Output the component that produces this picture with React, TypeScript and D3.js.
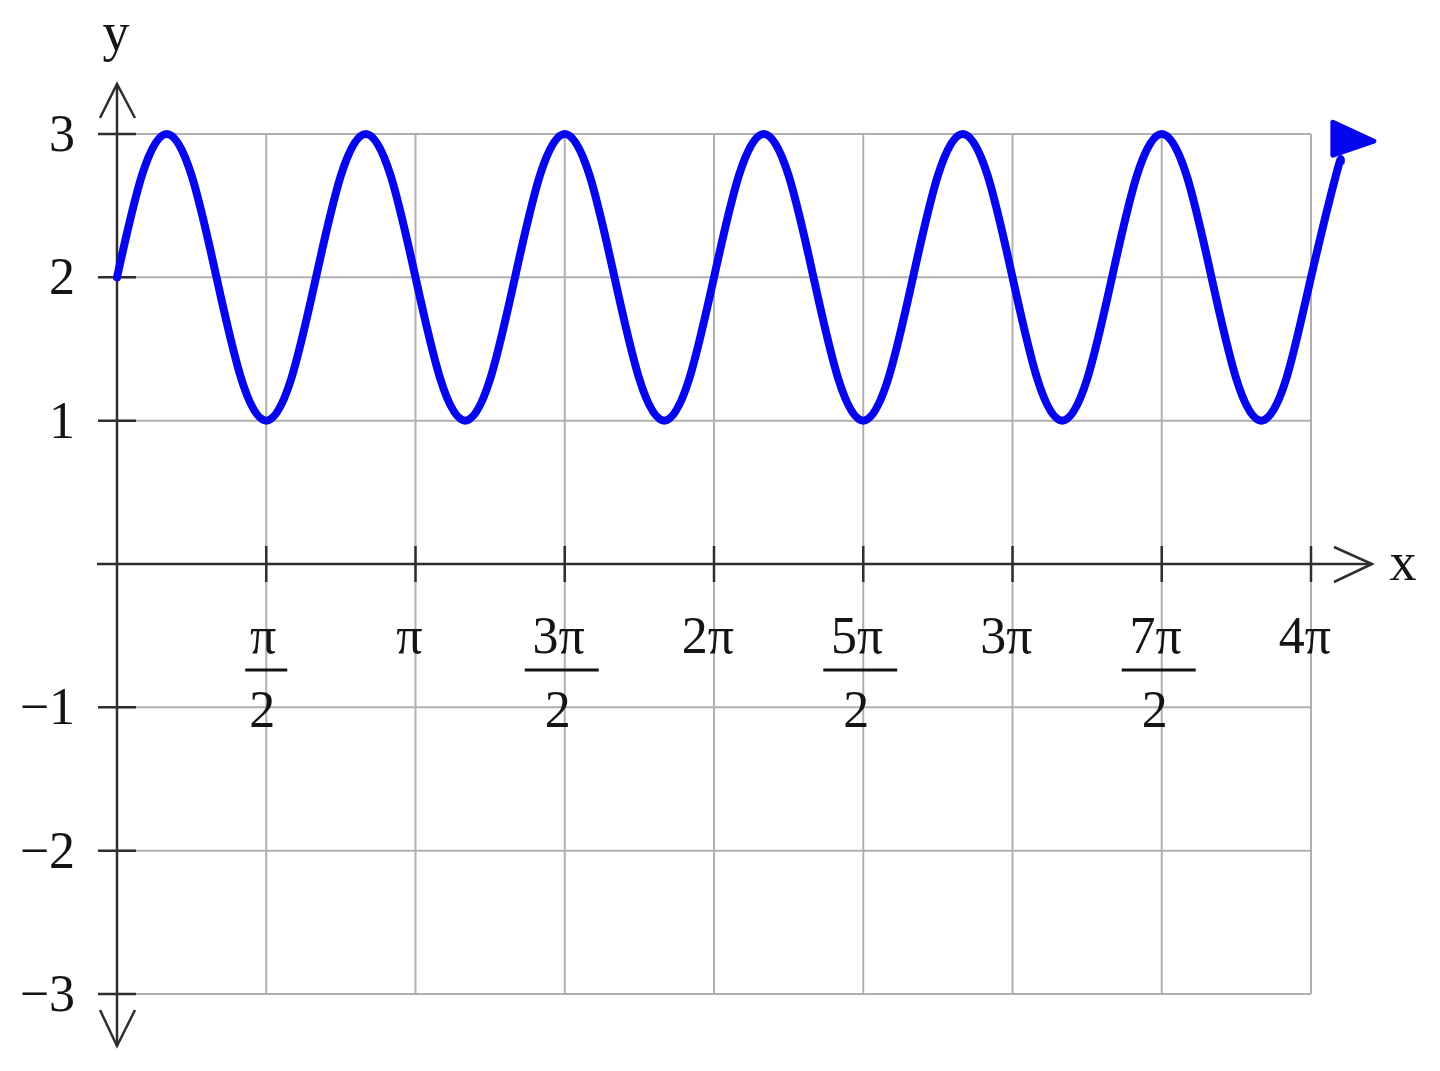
import React from "react";
import * as d3 from "d3";

const W = 1440;
const H = 1071;

// x positions in multiples of π/12, y values
const curveX = [
  0, 1, 2, 3, 4, 5, 6, 7, 8, 9, 10, 11, 12, 13, 14, 15, 16, 17, 18, 19, 20, 21, 22, 23, 24,
  25, 26, 27, 28, 29, 30, 31, 32, 33, 34, 35, 36, 37, 38, 39, 40, 41, 42, 43, 44, 45, 46, 47, 48, 49, 49.2,
];
const curveY = [
  2, 2.71, 3, 2.71, 2, 1.29, 1, 1.29, 2, 2.71, 3, 2.71, 2, 1.29, 1, 1.29, 2, 2.71, 3, 2.71, 2, 1.29, 1, 1.29, 2,
  2.71, 3, 2.71, 2, 1.29, 1, 1.29, 2, 2.71, 3, 2.71, 2, 1.29, 1, 1.29, 2, 2.71, 3, 2.71, 2, 1.29, 1, 1.29, 2, 2.71, 2.81,
];

// x ticks in multiples of π/2
const xTickVals = [1, 2, 3, 4, 5, 6, 7, 8];
const xTickNum = ["π", "π", "3π", "2π", "5π", "3π", "7π", "4π"];
const xTickFrac = [true, false, true, false, true, false, true, false];
const yTickVals = [-3, -2, -1, 1, 2, 3];
const yTickLabels = ["−3", "−2", "−1", "1", "2", "3"];
const yGridVals = [-3, -2, -1, 0, 1, 2, 3];

const FONT = "'Liberation Serif', 'DejaVu Serif', serif";
const FS = 52;

export default function App() {
  const x = d3.scaleLinear().domain([0, 4 * Math.PI]).range([117, 1311]);
  const y = d3.scaleLinear().domain([-3, 3]).range([994, 134]);
  const PI = Math.PI;

  const pts: [number, number][] = curveX.map((v, i) => [(v * PI) / 12, curveY[i]]);
  const line = d3
    .line<[number, number]>()
    .x((d) => x(d[0]))
    .y((d) => y(d[1]))
    .curve(d3.curveNatural);

  const last = pts[pts.length - 1];
  const ex = x(last[0]);
  const ey = y(last[1]);

  const x0 = x(0);
  const y0 = y(0);
  const axisCol = "#2e2e2e";
  const gridCol = "#b0b0b0";
  const blue = "#0606ee";
  const txt = "#141414";

  return (
    <svg
      width={W}
      height={H}
      style={{ position: "absolute", left: 0, top: 0, background: "#fff" }}
    >
      {/* grid */}
      {yGridVals.map((v) => (
        <line key={"gy" + v} x1={x0} x2={x(4 * PI)} y1={y(v)} y2={y(v)} stroke={gridCol} strokeWidth={2} />
      ))}
      {xTickVals.map((v) => (
        <line key={"gx" + v} x1={x((v * PI) / 2)} x2={x((v * PI) / 2)} y1={y(3)} y2={y(-3)} stroke={gridCol} strokeWidth={2} />
      ))}

      {/* x axis */}
      <line x1={97} x2={1372} y1={y0} y2={y0} stroke={axisCol} strokeWidth={2.5} />
      <polyline points={`1334,547 1372,${y0} 1334,582`} fill="none" stroke={axisCol} strokeWidth={2.5} />
      {xTickVals.map((v) => (
        <line key={"tx" + v} x1={x((v * PI) / 2)} x2={x((v * PI) / 2)} y1={y0 - 18} y2={y0 + 18} stroke={axisCol} strokeWidth={2.5} />
      ))}

      {/* y axis */}
      <line x1={x0} x2={x0} y1={84} y2={1046} stroke={axisCol} strokeWidth={2.5} />
      <polyline points={`100,118 ${x0},84 135,118`} fill="none" stroke={axisCol} strokeWidth={2.5} />
      <polyline points={`100,1010 ${x0},1046 135,1010`} fill="none" stroke={axisCol} strokeWidth={2.5} />
      {yTickVals.map((v) => (
        <line key={"ty" + v} x1={98} x2={136} y1={y(v)} y2={y(v)} stroke={axisCol} strokeWidth={2.5} />
      ))}

      {/* y labels */}
      {yTickVals.map((v, i) => (
        <text
          key={"ly" + v}
          x={75}
          y={y(v) + 17}
          textAnchor="end"
          fontFamily={FONT}
          fontSize={FS}
          fill={txt}
        >
          {yTickLabels[i]}
        </text>
      ))}

      {/* x labels */}
      {xTickVals.map((v, i) => {
        const tx = x((v * PI) / 2);
        if (!xTickFrac[i]) {
          return (
            <text key={"lx" + v} x={tx - 6} y={653} textAnchor="middle" fontFamily={FONT} fontSize={FS} fill={txt}>
              {xTickNum[i]}
            </text>
          );
        }
        const wide = xTickNum[i].length > 1;
        const half = wide ? 37 : 21;
        const bc = wide ? tx - 3 : tx;
        return (
          <g key={"lx" + v}>
            <text x={bc - 3} y={653} textAnchor="middle" fontFamily={FONT} fontSize={FS} fill={txt}>
              {xTickNum[i]}
            </text>
            <line x1={bc - half} x2={bc + half} y1={670} y2={670} stroke={txt} strokeWidth={3} />
            <text x={bc - 4} y={727} textAnchor="middle" fontFamily={FONT} fontSize={FS} fill={txt}>
              2
            </text>
          </g>
        );
      })}

      {/* axis names */}
      <text x={116} y={50} textAnchor="middle" fontFamily={FONT} fontSize={54} fill={txt}>
        y
      </text>
      <text x={1403} y={580} textAnchor="middle" fontFamily={FONT} fontSize={54} fill={txt}>
        x
      </text>

      {/* curve */}
      <path d={line(pts) || ""} fill="none" stroke={blue} strokeWidth={8} strokeLinecap="round" />
      <polygon
        points={`${ex - 8},${ey - 39} ${ex + 33},${ey - 20} ${ex - 8},${ey - 6}`}
        fill={blue}
        stroke={blue}
        strokeWidth={5}
        strokeLinejoin="round"
      />
    </svg>
  );
}
